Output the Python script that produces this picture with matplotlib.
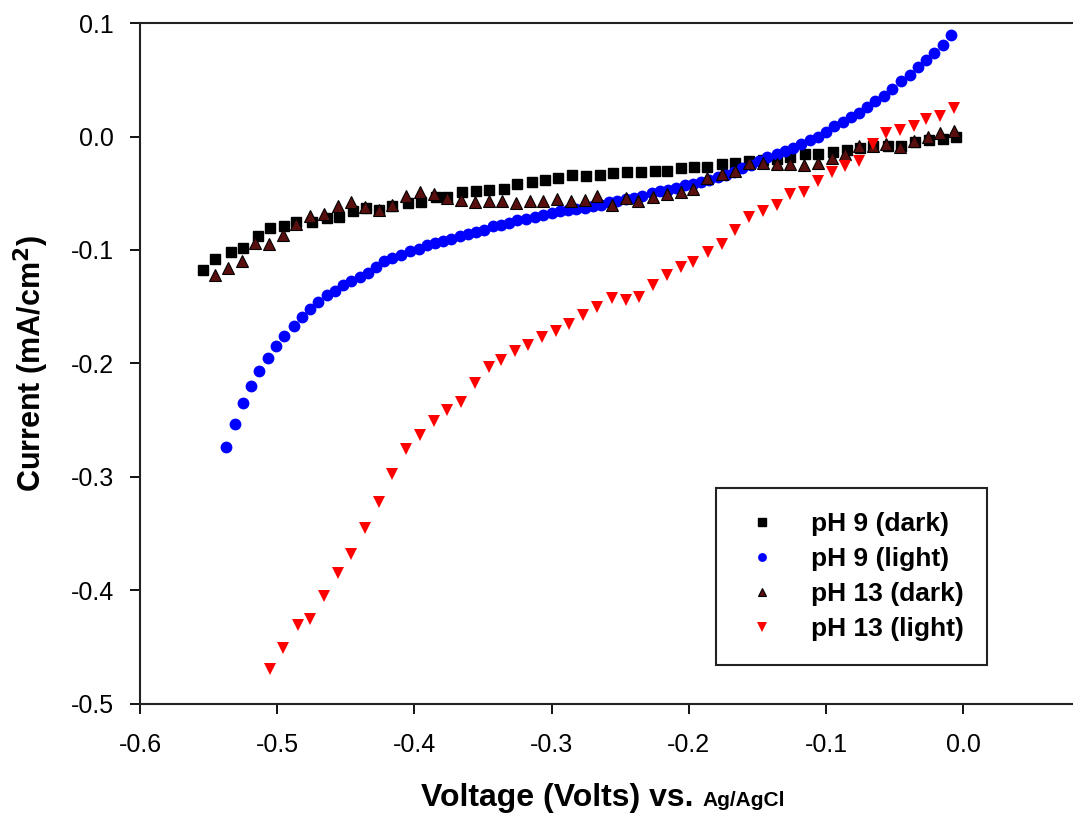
import numpy as np
import matplotlib
matplotlib.use('Agg')
import matplotlib.pyplot as plt

# Datos (Voltaje vs Ag/AgCl, corriente en mA/cm2)
v_ph9_dark = [-0.554, -0.545, -0.534, -0.525, -0.514, -0.505, -0.495, -0.486, -0.475, -0.464,
              -0.455, -0.445, -0.435, -0.426, -0.416, -0.405, -0.395, -0.384, -0.376, -0.365,
              -0.355, -0.346, -0.335, -0.325, -0.314, -0.305, -0.295, -0.285, -0.275, -0.265,
              -0.255, -0.245, -0.235, -0.225, -0.216, -0.206, -0.196, -0.187, -0.176, -0.166,
              -0.156, -0.146, -0.136, -0.126, -0.115, -0.106, -0.095, -0.085, -0.075, -0.066,
              -0.055, -0.045, -0.035, -0.025, -0.015, -0.005]
i_ph9_dark = [-0.118, -0.108, -0.102, -0.098, -0.088, -0.081, -0.079, -0.075, -0.075, -0.072,
              -0.071, -0.066, -0.063, -0.065, -0.061, -0.059, -0.058, -0.053, -0.053, -0.049,
              -0.048, -0.047, -0.046, -0.042, -0.040, -0.038, -0.037, -0.034, -0.035, -0.034,
              -0.032, -0.031, -0.031, -0.030, -0.030, -0.028, -0.027, -0.027, -0.024, -0.023,
              -0.022, -0.021, -0.020, -0.018, -0.015, -0.015, -0.014, -0.012, -0.010, -0.008,
              -0.008, -0.008, -0.005, -0.003, -0.002, 0.000]

v_ph9_light = [-0.537, -0.531, -0.525, -0.519, -0.513, -0.507, -0.501, -0.495, -0.488, -0.482,
               -0.476, -0.470, -0.464, -0.458, -0.452, -0.446, -0.440, -0.434, -0.428, -0.422,
               -0.416, -0.410, -0.403, -0.397, -0.391, -0.385, -0.379, -0.373, -0.367, -0.361,
               -0.355, -0.349, -0.343, -0.337, -0.331, -0.325, -0.319, -0.312, -0.306, -0.300,
               -0.294, -0.288, -0.282, -0.276, -0.270, -0.264, -0.258, -0.252, -0.246, -0.240,
               -0.234, -0.227, -0.221, -0.215, -0.209, -0.203, -0.197, -0.191, -0.185, -0.179,
               -0.173, -0.167, -0.161, -0.155, -0.149, -0.143, -0.136, -0.130, -0.124, -0.118,
               -0.112, -0.106, -0.100, -0.094, -0.088, -0.082, -0.076, -0.070, -0.064, -0.058,
               -0.052, -0.045, -0.039, -0.033, -0.027, -0.021, -0.015, -0.009]
i_ph9_light = [-0.274, -0.253, -0.235, -0.220, -0.207, -0.195, -0.185, -0.176, -0.167, -0.159,
               -0.152, -0.146, -0.140, -0.136, -0.131, -0.127, -0.124, -0.120, -0.115, -0.110,
               -0.107, -0.104, -0.101, -0.099, -0.096, -0.094, -0.092, -0.090, -0.088, -0.086,
               -0.084, -0.082, -0.079, -0.078, -0.076, -0.074, -0.073, -0.071, -0.069, -0.067,
               -0.066, -0.065, -0.064, -0.063, -0.061, -0.060, -0.058, -0.057, -0.055, -0.054,
               -0.052, -0.050, -0.048, -0.047, -0.045, -0.043, -0.042, -0.040, -0.038, -0.036,
               -0.034, -0.031, -0.028, -0.025, -0.022, -0.018, -0.015, -0.013, -0.010, -0.007,
               -0.003, 0.000, 0.004, 0.009, 0.013, 0.017, 0.021, 0.026, 0.031, 0.036,
               0.042, 0.049, 0.054, 0.061, 0.067, 0.074, 0.081, 0.089]

v_ph13_dark = [-0.545, -0.536, -0.526, -0.516, -0.506, -0.496, -0.486, -0.476, -0.466, -0.456,
               -0.446, -0.436, -0.426, -0.416, -0.406, -0.396, -0.386, -0.376, -0.366, -0.356,
               -0.346, -0.336, -0.326, -0.316, -0.306, -0.296, -0.286, -0.276, -0.267, -0.256,
               -0.246, -0.237, -0.226, -0.216, -0.206, -0.197, -0.187, -0.176, -0.166, -0.156,
               -0.146, -0.136, -0.126, -0.116, -0.106, -0.096, -0.086, -0.076, -0.066, -0.056,
               -0.046, -0.036, -0.026, -0.017, -0.007]
i_ph13_dark = [-0.122, -0.116, -0.110, -0.094, -0.095, -0.087, -0.077, -0.070, -0.068, -0.061,
               -0.058, -0.062, -0.065, -0.060, -0.052, -0.049, -0.051, -0.054, -0.056, -0.058,
               -0.057, -0.057, -0.059, -0.057, -0.057, -0.055, -0.057, -0.056, -0.052, -0.060,
               -0.054, -0.057, -0.053, -0.051, -0.049, -0.046, -0.037, -0.033, -0.030, -0.023,
               -0.023, -0.024, -0.024, -0.025, -0.023, -0.019, -0.015, -0.008, -0.008, -0.007,
               -0.009, -0.004, 0.000, 0.003, 0.005]

v_ph13_light = [-0.505, -0.496, -0.485, -0.476, -0.466, -0.456, -0.446, -0.436, -0.426, -0.416,
                -0.406, -0.396, -0.386, -0.376, -0.366, -0.356, -0.346, -0.337, -0.327, -0.317,
                -0.307, -0.297, -0.287, -0.277, -0.267, -0.256, -0.246, -0.236, -0.226, -0.216,
                -0.206, -0.197, -0.186, -0.176, -0.166, -0.156, -0.146, -0.136, -0.126, -0.116,
                -0.106, -0.096, -0.086, -0.076, -0.066, -0.056, -0.046, -0.036, -0.027, -0.017,
                -0.007]
i_ph13_light = [-0.469, -0.451, -0.430, -0.425, -0.405, -0.385, -0.368, -0.345, -0.322, -0.297,
                -0.275, -0.263, -0.251, -0.241, -0.234, -0.217, -0.203, -0.197, -0.189, -0.184,
                -0.177, -0.171, -0.165, -0.157, -0.150, -0.142, -0.144, -0.141, -0.131, -0.122,
                -0.115, -0.111, -0.102, -0.095, -0.082, -0.071, -0.066, -0.060, -0.051, -0.049,
                -0.039, -0.031, -0.026, -0.022, -0.007, 0.003, 0.006, 0.009, 0.015, 0.018,
                0.025]

x_ticks = [-0.6, -0.5, -0.4, -0.3, -0.2, -0.1, 0.0]
y_ticks = [-0.5, -0.4, -0.3, -0.2, -0.1, 0.0, 0.1]

plt.rcParams['font.family'] = ['Liberation Sans', 'DejaVu Sans']

fig = plt.figure(figsize=(10.73, 8.16), dpi=100)
ax = fig.add_axes([0.1305, 0.1373, 0.8695, 0.8345])

# Series
ax.plot(v_ph9_dark, i_ph9_dark, 's', color='black', markersize=7, label='pH 9 (dark)')
ax.plot(v_ph9_light, i_ph9_light, 'o', color='#0000ff', markersize=8.5, markeredgewidth=0,
        label='pH 9 (light)')
ax.plot(v_ph13_dark, i_ph13_dark, '^', markerfacecolor='#5a0f0f', markeredgecolor='black',
        markeredgewidth=0.8, markersize=8.5, label='pH 13 (dark)')
ax.plot(v_ph13_light, i_ph13_light, 'v', color='#ff0000', markersize=9, markeredgewidth=0,
        label='pH 13 (light)')

# Ejes
ax.set_xlim(-0.6, 0.08)
ax.set_ylim(-0.5, 0.1)
ax.set_xticks(x_ticks)
ax.set_yticks(y_ticks)
ax.set_xticklabels(['%.1f' % t for t in x_ticks])
ax.set_yticklabels(['%.1f' % t for t in y_ticks])
ax.tick_params(direction='out', length=7, width=1.3, labelsize=18)
ax.tick_params(axis='x', pad=14)
ax.tick_params(axis='y', pad=12)
ax.spines['right'].set_visible(False)
for s in ['left', 'top', 'bottom']:
    ax.spines[s].set_linewidth(1.5)
    ax.spines[s].set_color('#222222')

ax.set_ylabel('Current (mA/cm$^\\mathbf{2}$)', fontsize=22, fontweight='bold', labelpad=14)
fig.text(0.655, 0.012, 'Voltage (Volts) vs. ', fontsize=23, fontweight='bold',
         ha='right', va='baseline')
fig.text(0.655, 0.012, 'Ag/AgCl', fontsize=15, fontweight='bold', ha='left', va='baseline')

leg = ax.legend(loc='lower right', bbox_to_anchor=(0.908, 0.057),
                prop={'weight': 'bold', 'size': 19}, markerscale=0.75, handletextpad=1.0,
                borderpad=0.9, labelspacing=0.42, fancybox=False, framealpha=1,
                edgecolor='#222222', handlelength=1.7, borderaxespad=0)
leg.get_frame().set_linewidth(1.5)

plt.savefig('out.png', dpi=100)
plt.close()
